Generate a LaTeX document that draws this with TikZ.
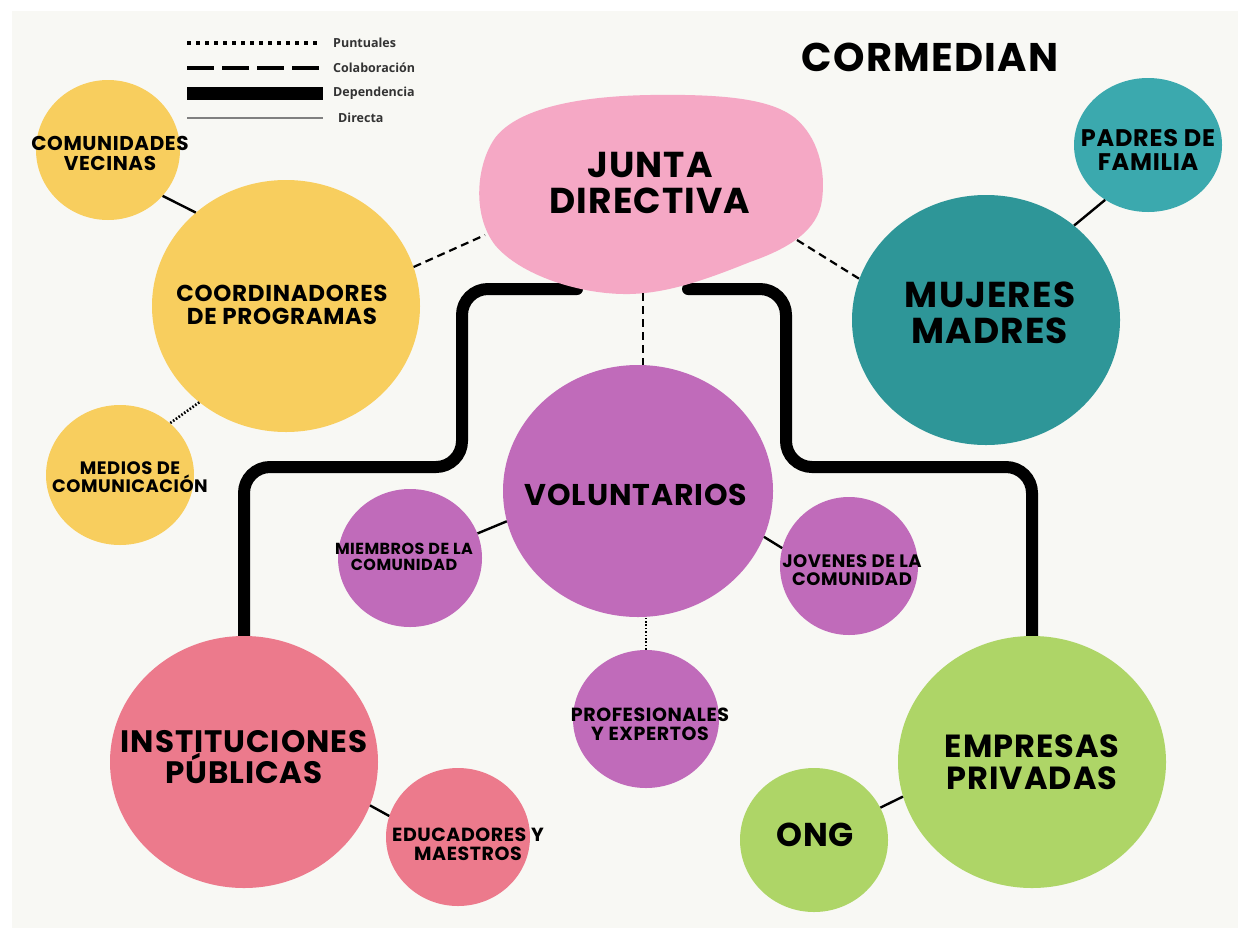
\documentclass[tikz,border=0pt]{standalone}
\usepackage{fontspec}
\usetikzlibrary{shapes.geometric,calc}
\newfontfamily\hand[LetterSpace=3]{Poppins}
\newfontfamily\legf{Open Sans}
\newcommand{\fsz}[1]{\fontsize{#1}{#1}\selectfont}
\definecolor{bgc}{HTML}{F8F8F4}
\definecolor{yel}{HTML}{F8CE5E}
\definecolor{jpink}{HTML}{F5A8C5}
\definecolor{teal}{HTML}{2E9698}
\definecolor{tealb}{HTML}{3BA9AE}
\definecolor{purp}{HTML}{C06BBA}
\definecolor{rose}{HTML}{EC7A8C}
\definecolor{grn}{HTML}{AED567}
\definecolor{legtxt}{HTML}{333333}
\pgfdeclarelayer{bg}
\pgfsetlayers{bg,main}
\tikzset{
  bub/.style={ellipse, inner sep=0pt, draw=none},
  lbl/.style={align=center, inner sep=0pt, text=black, font=\hand\bfseries\fsz{#1}},
  direct/.style={line width=2.4pt, black},
  colab/.style={line width=2.2pt, black, dash pattern=on 8pt off 5pt},
  punt/.style={line width=2.6pt, black, dash pattern=on 1.6pt off 1.8pt},
  dep/.style={line width=12pt, black, line cap=round, rounded corners=26pt},
  legt/.style={anchor=west, inner sep=0pt, text=legtxt, font=\legf\bfseries\fsz{12.5}}
}
\begin{document}
\begin{tikzpicture}[x=1pt,y=-1pt]
\useasboundingbox (0,0) rectangle (1249,940);
% circles
\node[bub, fill=yel, minimum width=144, minimum height=140] (comu) at (108,150) {};
\node[bub, fill=yel, minimum width=268, minimum height=252] (coord) at (286,306) {};
\node[bub, fill=yel, minimum width=148, minimum height=140] (medios) at (120,475) {};
\node[bub, fill=teal, minimum width=268, minimum height=250] (muj) at (986,320) {};
\node[bub, fill=tealb, minimum width=148, minimum height=134] (padres) at (1148,145) {};
\node[bub, fill=purp, minimum width=270, minimum height=252] (vol) at (638,491) {};
\node[bub, fill=purp, minimum width=144, minimum height=138] (miem) at (410,558) {};
\node[bub, fill=purp, minimum width=138, minimum height=138] (jov) at (849,566) {};
\node[bub, fill=purp, minimum width=146, minimum height=138] (prof) at (646,719) {};
\node[bub, fill=rose, minimum width=268, minimum height=252] (inst) at (244,762) {};
\node[bub, fill=rose, minimum width=144, minimum height=138] (educ) at (458,837) {};
\node[bub, fill=grn, minimum width=148, minimum height=144] (ong) at (814,840) {};
\node[bub, fill=grn, minimum width=268, minimum height=252] (emp) at (1032,762) {};
\node[ellipse, inner sep=0pt, minimum width=340, minimum height=190] (junta) at (650,190) {};
\begin{pgfonlayer}{bg}
  \fill[white] (0,0) rectangle (1249,940);
  \fill[bgc] (12,11) rectangle (1238,928);
  \draw[dep] (577,289) -| (462,467) -| (inst.north);
  \draw[dep] (688,289) -| (786,467) -| (emp.north);
  \fill[jpink] (650,95) .. controls (720,94) and (770,98) .. (795,118)
    .. controls (818,137) and (826,170) .. (822,200)
    .. controls (818,230) and (790,248) .. (750,262)
    .. controls (710,278) and (670,293) .. (630,294)
    .. controls (580,295) and (520,275) .. (495,245)
    .. controls (472,215) and (476,165) .. (495,138)
    .. controls (520,105) and (590,96) .. (650,95) -- cycle;
\end{pgfonlayer}
% labels
\node[lbl=40] (title) at (930,57) {CORMEDIAN};
\node[lbl=36] (t-junta) at (650,183) {JUNTA\\DIRECTIVA};
\node[lbl=23] (t-coord) at (282,305) {COORDINADORES\\DE PROGRAMAS};
\node[lbl=20] (t-comu) at (110,153) {COMUNIDADES\\VECINAS};
\node[lbl=18] (t-medios) at (130,477) {MEDIOS DE\\COMUNICACIÓN};
\node[lbl=36] (t-muj) at (990,313) {MUJERES\\MADRES};
\node[lbl=24] (t-padres) at (1148,150) {PADRES DE\\FAMILIA};
\node[lbl=30] (t-vol) at (636,495) {VOLUNTARIOS};
\node[lbl=16] (t-miem) at (404,557) {MIEMBROS DE LA\\COMUNIDAD};
\node[lbl=18] (t-jov) at (852,570) {JOVENES DE LA\\COMUNIDAD};
\node[lbl=19] (t-prof) at (650,724) {PROFESIONALES\\Y EXPERTOS};
\node[lbl=31] (t-inst) at (244,757) {INSTITUCIONES\\PÚBLICAS};
\node[lbl=19] (t-educ) at (468,844) {EDUCADORES Y\\MAESTROS};
\node[lbl=32] (t-emp) at (1032,762) {EMPRESAS\\PRIVADAS};
\node[lbl=33] (t-ong) at (815,835) {ONG};
% connectors
\draw[direct] (comu.-40) -- (coord.134);
\draw[punt] (coord.228) -- (medios.46);
\draw[colab] (coord.17) -- ($(junta.center)+(-165,45)$);
\draw[colab] ($(junta.center)+(147,50)$) -- (muj.162);
\draw[direct] (muj.47) -- (padres.232);
\draw[colab] ($(junta.center)+(-7,103)$) -- (vol.north -| 643,0);
\draw[direct] (miem.20) -- (vol.193);
\draw[direct] (vol.-20) -- (jov.165);
\draw[punt] (prof.north) -- (prof.north |- vol.south);
\draw[direct] (inst.-19) -- (educ.163);
\draw[direct] (ong.26) -- (emp.195);
% legend
\node[legt] (l-punt) at (333,43) {Puntuales};
\node[legt] (l-colab) at (333,68) {Colaboración};
\node[legt] (l-dep) at (333,93) {Dependencia};
\node[legt] (l-dir) at (338,118) {Directa};
\draw[line width=4pt, black, dash pattern=on 4pt off 5pt] ($(l-punt.west)+(-146,0)$) -- ++(131,0);
\draw[line width=4pt, black, dash pattern=on 27pt off 8pt] ($(l-colab.west)+(-146,0)$) -- ++(136,0);
\draw[line width=13pt, black] ($(l-dep.west)+(-146,0)$) -- ++(136,0);
\draw[line width=1.6pt, gray] ($(l-dir.west)+(-151,0)$) -- ++(136,0);
\end{tikzpicture}
\end{document}
